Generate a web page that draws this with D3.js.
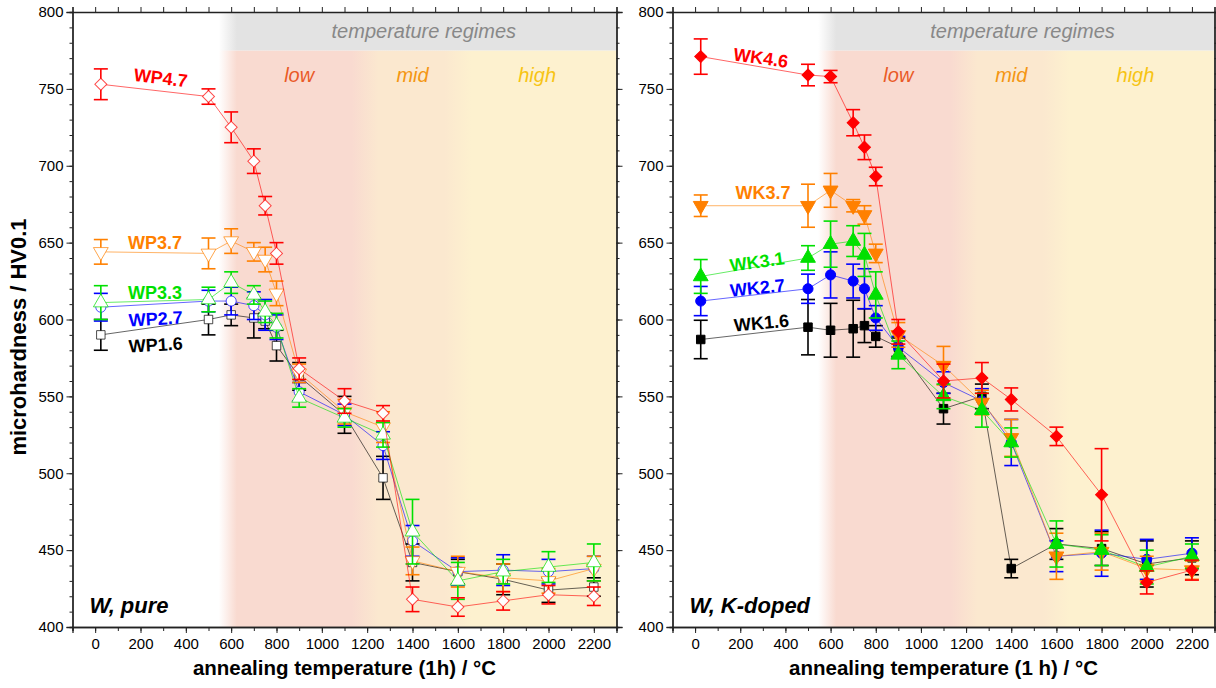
<!DOCTYPE html>
<html>
<head>
<meta charset="utf-8">
<script src="https://cdn.jsdelivr.net/npm/d3@7"></script>
<style>
  body { margin: 0; background: #fff; }
  svg { font-family: "Liberation Sans", Arial, sans-serif; }
</style>
</head>
<body>
<svg width="1216" height="688"></svg>
<script>
// annealing temperatures (°C), same for every series
var temps = [25, 500, 600, 700, 750, 800, 900, 1100, 1270, 1400, 1600, 1800, 2000, 2200];

// W, pure
var wp16 = [590, 600, 603, 601, 599, 583, 563, 538, 497, 442, 436, 431, 424, 426];
var wp16err = [10, 10, 7, 13, 5, 10, 9, 12, 14, 12, 8, 10, 8, 6];
var wp27 = [608, 612, 612, 609, 603, 595, 553, 538, 518, 456, 436, 437, 436, 438];
var wp27err = [9, 7, 9, 9, 10, 8, 6, 7, 9, 10, 9, 10, 8, 8];
var wp33 = [611, 613, 624, 616, 605, 596, 549, 536, 525, 462, 430, 436, 439, 442];
var wp33err = [11, 8, 7, 6, 7, 8, 6, 6, 8, 21, 12, 8, 10, 12];
var wp37 = [644, 643, 651, 644, 639, 617, 565, 540, 530, 443, 436, 432, 430, 438];
var wp37err = [8, 10, 8, 6, 8, 8, 6, 8, 10, 9, 10, 9, 8, 8];
var wp47 = [753, 745, 725, 703, 674, 643, 568, 547, 539, 418, 413, 417, 421, 420];
var wp47err = [10, 5, 10, 8, 6, 7, 7, 8, 5, 8, 6, 6, 6, 6];

// W, K-doped
var wk16 = [587, 595, 593, 594, 596, 589, 582, 542, 550, 438, 454, 451, 441, 445];
var wk16err = [12.5, 18, 17.5, 18.5, 11, 7, 6, 10, 8, 6, 10, 11, 15, 11];
var wk27 = [612, 620, 629, 625, 620, 601, 582, 559, 547, 520, 446, 448, 444, 448];
var wk27err = [9.5, 9.5, 15, 11, 13, 8, 7, 7, 8, 15, 10, 15, 13, 10];
var wk31 = [628, 640, 649, 651, 642, 616, 577, 550, 541, 520, 454, 450, 439, 446];
var wk31err = [11, 8, 15, 10, 14, 15, 9, 8, 11, 9.5, 15, 10, 11, 8];
var wk37 = [674, 674, 684, 674, 668, 643, 590, 570, 546, 523, 446, 449, 438, 437];
var wk37err = [7, 14, 11, 4, 6, 6, 8, 12.5, 8, 12, 15, 12, 8, 6];
var wk46 = [771, 759, 758, 728, 712, 693, 592, 560, 562, 548, 524, 486, 429, 437];
var wk46err = [11.5, 7, 4, 8.5, 8, 6, 8, 11, 10, 7.5, 6, 30, 7.5, 6.5];

var xTicks = [0, 200, 400, 600, 800, 1000, 1200, 1400, 1600, 1800, 2000, 2200];
var yTicks = [400, 450, 500, 550, 600, 650, 700, 750, 800];
var regimes = [
  {name: "low", at: 900, color: "#ea5a28"},
  {name: "mid", at: 1400, color: "#f49612"},
  {name: "high", at: 1950, color: "#f7c414"}
];

var colors = {black: "#000000", blue: "#0000ff", green: "#00e000", orange: "#ff8000", red: "#ff0000"};

var svg = d3.select("svg");

function panel(opts) {
  var x = d3.scaleLinear().domain([-100, 2300]).range([opts.left, opts.right]);
  var y = d3.scaleLinear().domain([400, 800]).range([627, 12]);
  var g = svg.append("g");
  var id = opts.id;

  // background regimes
  var defs = svg.append("defs");
  var grad = defs.append("linearGradient").attr("id", "reg" + id)
      .attr("gradientUnits", "userSpaceOnUse")
      .attr("x1", x(500)).attr("x2", x(2300)).attr("y1", 0).attr("y2", 0);
  var stops = [
    [500, "#f9dad0", 0], [545, "#f9dad0", 0], [625, "#f9dad0", 1], [1130, "#f9dad0", 1],
    [1250, "#fbe8cf", 1], [1540, "#fbe8cf", 1], [1660, "#fdf1cf", 1], [2300, "#fdf1cf", 1]
  ];
  stops.forEach(function(s) {
    grad.append("stop").attr("offset", (s[0] - 500) / 1800)
      .attr("stop-color", s[1]).attr("stop-opacity", s[2]);
  });
  var gradG = defs.append("linearGradient").attr("id", "gray" + id)
      .attr("gradientUnits", "userSpaceOnUse")
      .attr("x1", x(500)).attr("x2", x(2300)).attr("y1", 0).attr("y2", 0);
  [[500, 0], [545, 0], [625, 1], [2300, 1]].forEach(function(s) {
    gradG.append("stop").attr("offset", (s[0] - 500) / 1800)
      .attr("stop-color", "#e3e3e3").attr("stop-opacity", s[1]);
  });

  g.append("rect").attr("x", x(500)).attr("width", x(2300) - x(500))
    .attr("y", y(775)).attr("height", y(400) - y(775)).attr("fill", "url(#reg" + id + ")");
  g.append("rect").attr("x", x(500)).attr("width", x(2300) - x(500))
    .attr("y", y(800)).attr("height", y(775) - y(800)).attr("fill", "url(#gray" + id + ")");

  g.append("text").attr("x", x(1450)).attr("y", y(787.5)).attr("dy", "0.35em")
    .attr("text-anchor", "middle").attr("font-style", "italic").attr("font-size", 20)
    .attr("fill", "#888").text("temperature regimes");
  g.selectAll(".regime").data(regimes).enter().append("text")
    .attr("class", "regime")
    .attr("x", function(d) { return x(d.at); }).attr("y", y(759)).attr("dy", "0.35em")
    .attr("text-anchor", "middle").attr("font-style", "italic").attr("font-size", 20)
    .attr("fill", function(d) { return d.color; }).text(function(d) { return d.name; });

  // series
  opts.series.forEach(function(s) {
    var pts = temps.map(function(t, i) { return {t: t, v: s.values[i], e: s.errs[i]}; });
    var line = d3.line().x(function(d) { return x(d.t); }).y(function(d) { return y(d.v); });
    g.append("path").datum(pts).attr("d", line)
      .attr("fill", "none").attr("stroke", s.color).attr("stroke-opacity", 0.6).attr("stroke-width", 1);

    var eb = g.append("g").attr("stroke", s.color).attr("stroke-width", 1.6);
    pts.forEach(function(d) {
      eb.append("line").attr("x1", x(d.t)).attr("x2", x(d.t)).attr("y1", y(d.v - d.e)).attr("y2", y(d.v + d.e));
      eb.append("line").attr("x1", x(d.t) - 7).attr("x2", x(d.t) + 7).attr("y1", y(d.v - d.e)).attr("y2", y(d.v - d.e));
      eb.append("line").attr("x1", x(d.t) - 7).attr("x2", x(d.t) + 7).attr("y1", y(d.v + d.e)).attr("y2", y(d.v + d.e));
    });

    var sym = d3.symbol().type(s.shape === "circle" ? d3.symbolCircle :
        (s.shape === "square" || s.shape === "diamond") ? d3.symbolSquare : d3.symbolTriangle)
      .size(s.shape === "circle" ? 80 : s.shape === "square" ? 72 : s.shape === "diamond" ? 72 : 95);
    var rot = s.shape === "diamond" ? 45 : s.shape === "down" ? 180 : 0;
    g.selectAll(null).data(pts).enter().append("path")
      .attr("d", sym)
      .attr("transform", function(d) { return "translate(" + x(d.t) + "," + y(d.v) + ") rotate(" + rot + ")"; })
      .attr("fill", opts.filled ? s.color : "#fff")
      .attr("stroke", s.color).attr("stroke-opacity", opts.filled ? 1 : 0.7).attr("stroke-width", 1);
  });

  // series labels
  opts.series.forEach(function(s) {
    g.append("text").attr("transform", "translate(" + s.lx + "," + s.ly + ") rotate(" + s.rot + ")")
      .attr("text-anchor", "middle").attr("font-weight", "bold").attr("font-size", 18)
      .attr("fill", s.color).text(s.name);
  });

  // axes
  var minorX = d3.range(-100, 2301, 100);
  var minorY = d3.range(400, 801, 10);
  g.append("g").attr("transform", "translate(0," + y(400) + ")")
    .call(d3.axisBottom(x).tickValues(minorX).tickSize(4).tickFormat(""));
  g.append("g").attr("transform", "translate(0," + y(400) + ")")
    .call(d3.axisBottom(x).tickValues(xTicks).tickSize(6).tickPadding(5).tickFormat(d3.format("d")))
    .selectAll("text").attr("font-size", 15).attr("fill", "#000");
  g.append("g").attr("transform", "translate(0," + y(800) + ")")
    .call(d3.axisTop(x).tickValues(minorX).tickSize(5).tickFormat(""));
  g.append("g").attr("transform", "translate(" + x(-100) + ",0)")
    .call(d3.axisLeft(y).tickValues(minorY).tickSize(3).tickFormat(""));
  g.append("g").attr("transform", "translate(" + x(-100) + ",0)")
    .call(d3.axisLeft(y).tickValues(yTicks).tickSize(6).tickPadding(3))
    .selectAll("text").attr("font-size", 15).attr("fill", "#000");
  g.append("g").attr("transform", "translate(" + x(2300) + ",0)")
    .call(d3.axisRight(y).tickValues(minorY).tickSize(3).tickFormat(""));
  g.append("g").attr("transform", "translate(" + x(2300) + ",0)")
    .call(d3.axisRight(y).tickValues(yTicks).tickSize(6).tickFormat(""));
  g.selectAll(".domain").attr("stroke", "#222").attr("stroke-width", 1.3);
  g.selectAll(".tick line").attr("stroke", "#222");

  g.append("text").attr("x", opts.left + 17).attr("y", 613)
    .attr("font-weight", "bold").attr("font-style", "italic").attr("font-size", 22)
    .text(opts.title);
  g.append("text").attr("x", (opts.left + opts.right) / 2).attr("y", 675)
    .attr("text-anchor", "middle").attr("font-weight", "bold").attr("font-size", 20.5)
    .text(opts.xlabel);
}

panel({
  id: "a", left: 72.5, right: 616.5, filled: false, title: "W, pure",
  xlabel: "annealing temperature (1h) / °C",
  series: [
    {name: "WP1.6", values: wp16, errs: wp16err, color: colors.black, shape: "square", lx: 156, ly: 351, rot: -3},
    {name: "WP2.7", values: wp27, errs: wp27err, color: colors.blue, shape: "circle", lx: 156, ly: 325, rot: -3},
    {name: "WP3.7", values: wp37, errs: wp37err, color: colors.orange, shape: "down", lx: 155, ly: 249, rot: 0},
    {name: "WP3.3", values: wp33, errs: wp33err, color: colors.green, shape: "up", lx: 155, ly: 299, rot: 0},
    {name: "WP4.7", values: wp47, errs: wp47err, color: colors.red, shape: "diamond", lx: 160, ly: 84, rot: 7}
  ]
});

panel({
  id: "b", left: 672.5, right: 1214.5, filled: true, title: "W, K-doped",
  xlabel: "annealing temperature (1 h) / °C",
  series: [
    {name: "WK1.6", values: wk16, errs: wk16err, color: colors.black, shape: "square", lx: 762, ly: 329, rot: -5},
    {name: "WK2.7", values: wk27, errs: wk27err, color: colors.blue, shape: "circle", lx: 758, ly: 294, rot: -6},
    {name: "WK3.7", values: wk37, errs: wk37err, color: colors.orange, shape: "down", lx: 763, ly: 199, rot: 0},
    {name: "WK3.1", values: wk31, errs: wk31err, color: colors.green, shape: "up", lx: 758, ly: 268, rot: -8},
    {name: "WK4.6", values: wk46, errs: wk46err, color: colors.red, shape: "diamond", lx: 760, ly: 64, rot: 8}
  ]
});

svg.append("text").attr("transform", "translate(26,337) rotate(-90)")
  .attr("text-anchor", "middle").attr("font-weight", "bold").attr("font-size", 22)
  .text("microhardness / HV0.1");
</script>
</body>
</html>
